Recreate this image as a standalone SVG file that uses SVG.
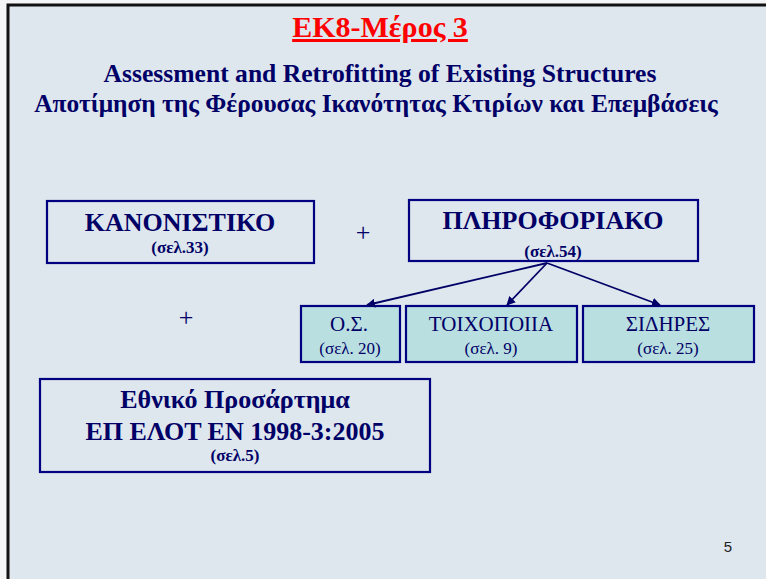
<svg xmlns="http://www.w3.org/2000/svg" width="766" height="579" viewBox="0 0 766 579">
<defs>
<style>
.bx{fill:none;stroke:#000080;stroke-width:2.2}
.sb{fill:#b9dfe1;stroke:#000080;stroke-width:2.2}
.t{font-family:"Liberation Serif","Times New Roman",serif;fill:#000066;text-anchor:middle}
.b{font-weight:bold}
.big{font-size:26px;font-weight:bold}
.pg{font-size:17px;font-weight:bold}
.c{stroke:#000066;stroke-width:1.8;fill:none;marker-end:url(#ah)}
</style>
<marker id="ah" viewBox="0 0 10 10" refX="9" refY="5" markerWidth="5" markerHeight="5" orient="auto"><path d="M0,0 L10,5 L0,10 z" fill="#000066"/></marker>
</defs>
<rect x="0" y="0" width="766" height="579" fill="#f4f5f7"/>
<rect x="8" y="5" width="760" height="580" fill="#dee6ee" stroke="#111" stroke-width="3"/>
<g id="title">
<text x="380" y="37" class="t b" style="font-size:30px;fill:#ff0000;text-decoration:underline">ΕΚ8-Μέρος 3</text>
<text x="380" y="82" class="t b" style="font-size:25.6px">Assessment and Retrofitting of Existing Structures</text>
<text x="376" y="112" class="t b" style="font-size:25.4px">Αποτίμηση της Φέρουσας Ικανότητας Κτιρίων και Επεμβάσεις</text>
</g>
<g id="kanonistiko">
<rect x="47" y="201" width="267" height="62" class="bx"/>
<text x="180" y="231" class="t big">ΚΑΝΟΝΙΣΤΙΚΟ</text>
<text x="180" y="253" class="t pg">(σελ.33)</text>
</g>
<g id="plus1"><text x="363" y="241" class="t" style="font-size:26px">+</text></g>
<g id="pliroforiako">
<rect x="409" y="200" width="289" height="61" class="bx"/>
<text x="553" y="229" class="t big">ΠΛΗΡΟΦΟΡΙΑΚΟ</text>
<text x="553" y="257" class="t pg">(σελ.54)</text>
</g>
<g id="plus2"><text x="186" y="326" class="t" style="font-size:26px">+</text></g>
<g id="os">
<rect x="301" y="306" width="99" height="56" class="sb"/>
<text x="349" y="331" class="t" style="font-size:21px">Ο.Σ.</text>
<text x="350" y="354" class="t" style="font-size:17px">(σελ. 20)</text>
</g>
<g id="toixopoiia">
<rect x="406" y="306" width="171" height="56" class="sb"/>
<text x="491" y="331" class="t" style="font-size:21px">ΤΟΙΧΟΠΟΙΙΑ</text>
<text x="491" y="354" class="t" style="font-size:17px">(σελ. 9)</text>
</g>
<g id="sidires">
<rect x="583" y="306" width="171" height="56" class="sb"/>
<text x="668" y="331" class="t" style="font-size:21px">ΣΙΔΗΡΕΣ</text>
<text x="668" y="354" class="t" style="font-size:17px">(σελ. 25)</text>
</g>
<g id="ethniko">
<rect x="40" y="379" width="390" height="93" class="bx"/>
<text x="235" y="408" class="t big">Εθνικό Προσάρτημα</text>
<text x="235" y="440" class="t big">ΕΠ ΕΛΟΤ ΕΝ 1998-3:2005</text>
<text x="235" y="461" class="t pg">(σελ.5)</text>
</g>
<g id="connectors">
<line x1="547" y1="263" x2="367" y2="305" class="c"/>
<line x1="547" y1="263" x2="507" y2="305" class="c"/>
<line x1="547" y1="263" x2="660" y2="305" class="c"/>
</g>
<g id="pagenum"><text x="728" y="552" style="font-family:'Liberation Sans',Arial,sans-serif;font-size:15px;fill:#222;text-anchor:middle">5</text></g>
</svg>
